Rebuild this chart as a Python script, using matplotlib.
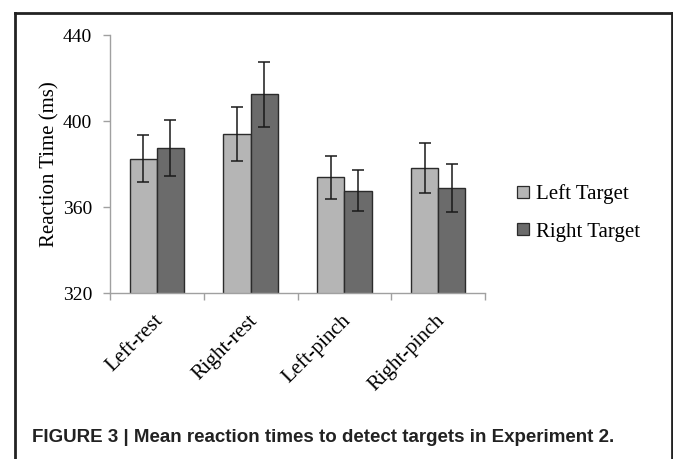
import matplotlib
matplotlib.use("Agg")
import matplotlib.pyplot as plt
import numpy as np
from matplotlib.lines import Line2D

categories = ["Left-rest", "Right-rest", "Left-pinch", "Right-pinch"]
left_target = [382.5, 394.0, 373.9, 378.2]
left_err = [11.0, 12.7, 10.0, 11.7]
right_target = [387.5, 412.4, 367.5, 368.8]
right_err = [13.0, 15.0, 9.5, 11.2]
yticks = [320, 360, 400, 440]
series_names = ["Left Target", "Right Target"]
caption = "FIGURE 3 | Mean reaction times to detect targets in Experiment 2."

serif = "Liberation Serif"
cap_font = "Liberation Sans"

fig = plt.figure(figsize=(6.73, 4.59), dpi=100)
ax = fig.add_axes([110/673, 1-293/459, (485-110)/673, (293-35)/459])

x = np.arange(len(categories))
w = 0.29
light = "#b5b5b5"
dark = "#6b6b6b"
edge = "#2b2b2b"
ekw = dict(ecolor="#1a1a1a", elinewidth=1.1, capsize=4.2, capthick=1.1)
ax.bar(x - w/2, left_target, w, color=light, edgecolor=edge, linewidth=1.0,
       yerr=left_err, error_kw=ekw, label=series_names[0], zorder=2)
ax.bar(x + w/2, right_target, w, color=dark, edgecolor=edge, linewidth=1.0,
       yerr=right_err, error_kw=ekw, label=series_names[1], zorder=2)

ax.set_ylim(320, 440)
ax.set_xlim(-0.5, len(categories) - 0.5)
ax.set_yticks(yticks)
ax.set_yticklabels([str(t) for t in yticks], fontfamily=serif, fontsize=14)
ax.tick_params(axis="y", length=5, color="#a0a0a0", width=1, pad=8)

ax.set_xticks(np.arange(-0.5, len(categories), 1.0))
ax.set_xticklabels([])
ax.tick_params(axis="x", length=5, color="#a0a0a0", width=1)
for xi, lab in zip(x, categories):
    ax.annotate(lab, xy=(xi, 320), xycoords="data", xytext=(2.7, -18),
                textcoords="offset points", rotation=45, rotation_mode="anchor",
                ha="right", va="center", fontfamily=serif, fontsize=15)

for s in ["top", "right"]:
    ax.spines[s].set_visible(False)
for s in ["left", "bottom"]:
    ax.spines[s].set_color("#a0a0a0")
    ax.spines[s].set_linewidth(1)

ax.set_ylabel("Reaction Time (ms)", fontfamily=serif, fontsize=15, labelpad=2)

handles = [Line2D([], [], marker="s", linestyle="none", markersize=8,
                  markerfacecolor=c, markeredgecolor=edge, markeredgewidth=0.9)
           for c in (light, dark)]
fig.legend(handles, series_names, loc="center left", bbox_to_anchor=(516/673, 1-213/459),
           frameon=False, prop={"family": serif, "size": 15}, handlelength=0.7,
           handletextpad=0.25, labelspacing=0.85, borderaxespad=0, borderpad=0)

fig.text(32/673, 1-438/459, caption, fontfamily=cap_font, fontweight="bold",
         fontsize=13.5, color="#222222", va="center", ha="left")

# border box
bc = "#222222"
fig.add_artist(Line2D([15/673, 15/673], [0, 1-13/459], color=bc, lw=2.0, transform=fig.transFigure))
fig.add_artist(Line2D([15/673, 672/673], [1-13/459, 1-13/459], color=bc, lw=2.0, transform=fig.transFigure))
fig.add_artist(Line2D([672/673, 672/673], [0, 1-13/459], color=bc, lw=2.0, transform=fig.transFigure))

fig.savefig("out.png", dpi=100)
